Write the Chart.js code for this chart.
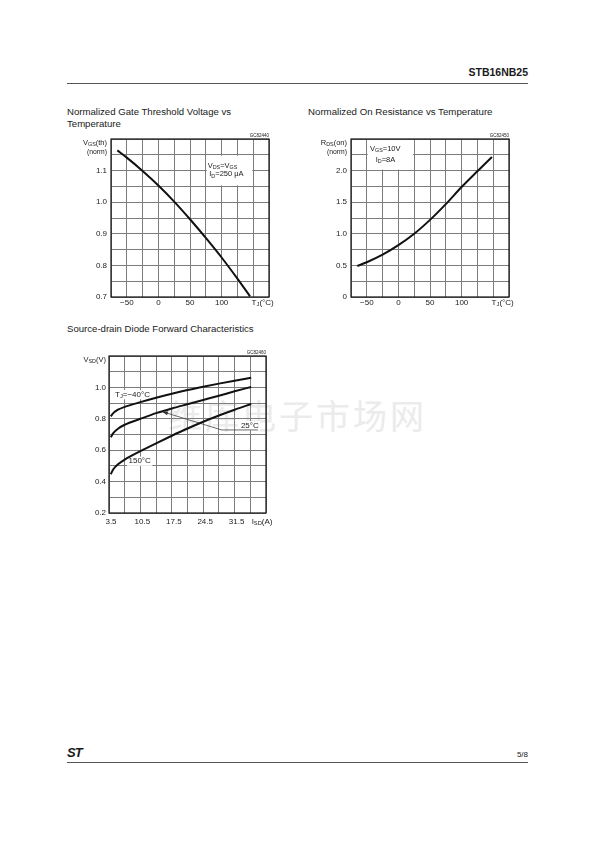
<!DOCTYPE html>
<html>
<head>
<meta charset="UTF-8">
<title>STB16NB25 - Kennlinien</title>
<script src="https://cdn.jsdelivr.net/npm/chart.js"></script>
<style>
  body { margin:0; width:595px; height:842px; position:relative; background:#fff; overflow:hidden;
         font-family:"Liberation Sans", Arial, sans-serif; color:#1a1a1a; }
  .t { position:absolute; white-space:nowrap; }
  canvas { position:absolute; }
  .wm { position:absolute; left:168px; top:396px; font-family:"Noto Sans CJK SC", sans-serif; font-size:34px;
        letter-spacing:3px; color:#ebebeb; white-space:nowrap; line-height:38px; }
</style>
</head>
<body>
<div class="t" style="right:67px; top:66.5px; font-size:10.5px; line-height:10.5px; font-weight:bold;">STB16NB25</div>
<div class="t" style="left:67px; top:83px; width:461px; border-top:1px solid #555;"></div>

<div class="wm">维库电子市场网</div>

<div class="t" style="left:67px; top:105.5px; font-size:9.6px; line-height:12.3px;">Normalized Gate Threshold Voltage vs<br>Temperature</div>
<div class="t" style="left:308px; top:105.5px; font-size:9.7px; line-height:12.3px;">Normalized On Resistance vs Temperature</div>
<div class="t" style="left:67px; top:322.8px; font-size:9.6px; line-height:12.3px;">Source-drain Diode Forward Characteristics</div>

<canvas id="gateChart"></canvas>
<canvas id="ronChart"></canvas>
<canvas id="diodeChart"></canvas>

<div class="t" style="left:67px; top:746px; font-size:13px; line-height:13px; font-weight:bold; font-style:italic; letter-spacing:-1px;">ST</div>
<div class="t" style="right:67px; top:751px; font-size:8px; line-height:8px;">5/8</div>
<div class="t" style="left:67px; top:762px; width:461px; border-top:1px solid #555;"></div>

<script>
// --- Normalized gate threshold voltage vs temperature
const gateTemp = [-65, -50, -25, 0, 25, 50, 75, 100, 125, 145];
const gateVth  = [1.164, 1.141, 1.099, 1.053, 1.002, 0.946, 0.887, 0.825, 0.758, 0.702];

// --- Normalized on resistance vs temperature
const ronTemp = [-65, -50, -25, 0, 25, 50, 75, 100, 125, 148];
const ronNorm = [0.49, 0.55, 0.67, 0.82, 1.0, 1.22, 1.47, 1.74, 1.99, 2.215];

// --- Source-drain diode forward characteristics
const isd        = [3.9, 4.5, 5.5, 7, 10.5, 14, 17.5, 21, 24.5, 28, 31.5, 35.2];
const vsdMinus40 = [0.815, 0.838, 0.858, 0.876, 0.906, 0.934, 0.96, 0.983, 1.004, 1.024, 1.043, 1.062];
const vsd25      = [0.683, 0.71, 0.737, 0.762, 0.8, 0.836, 0.866, 0.893, 0.92, 0.947, 0.975, 1.003];
const vsd150     = [0.447, 0.48, 0.51, 0.54, 0.594, 0.644, 0.692, 0.738, 0.781, 0.821, 0.858, 0.894];
// Hinweislinie zum 25°C-Label
const leaderIsd = [36.7, 28.6, 15.3];
const leaderVsd = [0.729, 0.729, 0.846];

// Beschriftete Ticks
const tempTicks = [-50, 0, 50, 100];
const vthTicks  = [0.7, 0.8, 0.9, 1.0, 1.1];
const ronTicks  = [0, 0.5, 1.0, 1.5, 2.0];
const isdTicks  = [3.5, 10.5, 17.5, 24.5, 31.5];
const vsdTicks  = [0.2, 0.4, 0.6, 0.8, 1.0];

const FONT = '"Liberation Sans", Arial, sans-serif';
Chart.defaults.font.family = FONT;

function pts(xs, ys) { return xs.map((x, i) => ({ x: x, y: ys[i] })); }

function tickLabel(list, fmt) {
    return v => {
        const hit = list.find(t => Math.abs(t - v) < 1e-6);
        return hit === undefined ? '' : fmt(hit);
    };
}

// Text mit Indizes zeichnen, parts: 'text' oder ['text','sub']
function drawRich(ctx, parts, x, y, size, align, bg) {
    const segs = parts.map(p => typeof p === 'string'
        ? { t: p, s: size, dy: 0 }
        : { t: p[0], s: size * 0.72, dy: size * 0.25 });
    let w = 0;
    segs.forEach(g => { ctx.font = g.s + 'px ' + FONT; g.w = ctx.measureText(g.t).width; w += g.w; });
    let cx = align === 'right' ? x - w : (align === 'center' ? x - w / 2 : x);
    if (bg) {
        ctx.fillStyle = '#fff';
        ctx.fillRect(cx - 1.5, y - size * 0.55, w + 3, size * 1.15);
    }
    ctx.fillStyle = '#1a1a1a';
    ctx.textBaseline = 'middle';
    ctx.textAlign = 'left';
    segs.forEach(g => { ctx.font = g.s + 'px ' + FONT; ctx.fillText(g.t, cx, y + g.dy); cx += g.w; });
}

function notesPlugin(cfg) {
    return {
        id: 'notes',
        beforeDatasetsDraw(chart) {
            const ctx = chart.ctx, a = chart.chartArea, xs = chart.scales.x, ys = chart.scales.y;
            ctx.save();
            (cfg.boxes || []).forEach(b => {
                const x1 = xs.getPixelForValue(b[0]), y1 = ys.getPixelForValue(b[1]);
                const x2 = xs.getPixelForValue(b[2]), y2 = ys.getPixelForValue(b[3]);
                ctx.fillStyle = '#fff';
                ctx.fillRect(x1 + 1, y1 + 1, x2 - x1 - 2, y2 - y1 - 2);
            });
            ctx.strokeStyle = '#111';
            ctx.lineWidth = 1.2;
            ctx.strokeRect(a.left, a.top, a.right - a.left, a.bottom - a.top);
            const tickY = a.bottom + cfg.xPad + 4.8;
            cfg.notes.forEach(n => {
                let px, py;
                if (n.side === 'left') { px = a.left - cfg.yPad; py = ys.getPixelForValue(n.y); }
                else if (n.side === 'bottom') { px = xs.getPixelForValue(n.x); py = tickY; }
                else if (n.side === 'top') { px = a.right; py = a.top - 3; }
                else { px = xs.getPixelForValue(n.x); py = ys.getPixelForValue(n.y); }
                drawRich(ctx, n.parts, px, py, n.size || 8, n.align || 'left', n.bg);
            });
            ctx.restore();
        },
        afterDatasetsDraw(chart) {
            if (!cfg.arrow) return;
            const ctx = chart.ctx, xs = chart.scales.x, ys = chart.scales.y;
            const tx = xs.getPixelForValue(cfg.arrow.to[0]), ty = ys.getPixelForValue(cfg.arrow.to[1]);
            const fx = xs.getPixelForValue(cfg.arrow.from[0]), fy = ys.getPixelForValue(cfg.arrow.from[1]);
            const ang = Math.atan2(ty - fy, tx - fx);
            ctx.save();
            ctx.translate(tx, ty);
            ctx.rotate(ang);
            ctx.fillStyle = '#333';
            ctx.beginPath();
            ctx.moveTo(0, 0); ctx.lineTo(-6, -2); ctx.lineTo(-6, 2); ctx.closePath();
            ctx.fill();
            ctx.restore();
        }
    };
}

function makeChart(id, box, cfg) {
    const yW = 50, padT = 20, padR = 30, xH = 22;
    const cv = document.getElementById(id);
    cv.width = yW + box.w + padR;
    cv.height = padT + box.h + xH;
    cv.style.left = (box.left - yW) + 'px';
    cv.style.top = (box.top - padT) + 'px';
    const grid = { color: '#7c7c7c', lineWidth: 1, drawTicks: false };
    const tickFont = { size: 8 };
    return new Chart(cv, {
        type: 'line',
        data: { datasets: cfg.datasets },
        options: {
            responsive: false,
            animation: false,
            events: [],
            layout: { padding: { top: padT, right: padR, left: 0, bottom: 0 } },
            plugins: { legend: { display: false }, tooltip: { enabled: false } },
            elements: { point: { radius: 0 } },
            scales: {
                x: {
                    type: 'linear', min: cfg.x.min, max: cfg.x.max,
                    afterFit: s => { s.height = xH; },
                    grid: grid, border: { display: false },
                    ticks: { stepSize: cfg.x.step, autoSkip: false, maxRotation: 0, padding: cfg.xPad,
                             labelOffset: cfg.x.offset || 0, color: '#222', font: tickFont,
                             callback: tickLabel(cfg.x.labels, cfg.x.fmt) }
                },
                y: {
                    type: 'linear', min: cfg.y.min, max: cfg.y.max,
                    afterFit: s => { s.width = yW; },
                    grid: grid, border: { display: false },
                    ticks: { stepSize: cfg.y.step, autoSkip: false, padding: cfg.yPad, color: '#222', font: tickFont,
                             callback: tickLabel(cfg.y.labels, cfg.y.fmt) }
                }
            }
        },
        plugins: [notesPlugin(cfg)]
    });
}

const curve = { borderColor: '#111', borderWidth: 2, fill: false, cubicInterpolationMode: 'monotone', pointRadius: 0 };
const fmtTemp = v => (v < 0 ? '\u2212' + Math.abs(v) : String(v));

makeChart('gateChart', { left: 111, top: 139, w: 158, h: 158 }, {
    x: { min: -75, max: 175, step: 25, labels: tempTicks, fmt: fmtTemp },
    y: { min: 0.7, max: 1.2, step: 0.05, labels: vthTicks, fmt: v => v.toFixed(1) },
    xPad: 1, yPad: 4,
    datasets: [Object.assign({ data: pts(gateTemp, gateVth) }, curve)],
    boxes: [[75, 1.15, 150, 1.05]],
    notes: [
        { x: 78, y: 1.116, parts: ['V', ['DS', 'sub'], '=V', ['GS', 'sub']], size: 7.5 },
        { x: 80.5, y: 1.088, parts: ['I', ['D', 'sub'], '=250 \u03bcA'], size: 7.5 },
        { side: 'left', y: 1.187, parts: ['V', ['GS', 'sub'], '(th)'], align: 'right', size: 7.5 },
        { side: 'left', y: 1.159, parts: ['(norm)'], align: 'right', size: 6.8 },
        { side: 'bottom', x: 147.5, parts: ['T', ['J', 'sub'], '(\u00b0C)'] },
        { side: 'top', parts: ['GC82440'], align: 'right', size: 4.5 }
    ]
});

makeChart('ronChart', { left: 351, top: 139, w: 158, h: 158 }, {
    x: { min: -75, max: 175, step: 25, labels: tempTicks, fmt: fmtTemp },
    y: { min: 0, max: 2.5, step: 0.25, labels: ronTicks, fmt: v => (v === 0 ? '0' : v.toFixed(1)) },
    xPad: 1, yPad: 4,
    datasets: [Object.assign({ data: pts(ronTemp, ronNorm) }, curve)],
    boxes: [[-50, 2.5, 25, 2.0]],
    notes: [
        { x: -44.9, y: 2.346, parts: ['V', ['GS', 'sub'], '=10V'], size: 7.5 },
        { x: -35.9, y: 2.176, parts: ['I', ['D', 'sub'], '=8A'], size: 7.5 },
        { side: 'left', y: 2.437, parts: ['R', ['DS', 'sub'], '(on)'], align: 'right', size: 7.5 },
        { side: 'left', y: 2.294, parts: ['(norm)'], align: 'right', size: 6.8 },
        { side: 'bottom', x: 147.5, parts: ['T', ['J', 'sub'], '(\u00b0C)'] },
        { side: 'top', parts: ['GC82450'], align: 'right', size: 4.5 }
    ]
});

makeChart('diodeChart', { left: 109, top: 356, w: 157, h: 157 }, {
    x: { min: 3.5, max: 38.5, step: 3.5, labels: isdTicks, fmt: v => v.toFixed(1), offset: 2 },
    y: { min: 0.2, max: 1.2, step: 0.1, labels: vsdTicks, fmt: v => v.toFixed(1) },
    xPad: 3.5, yPad: 3,
    datasets: [
        Object.assign({ data: pts(isd, vsdMinus40) }, curve),
        Object.assign({ data: pts(isd, vsd25) }, curve),
        Object.assign({ data: pts(isd, vsd150) }, curve),
        { data: pts(leaderIsd, leaderVsd), borderColor: '#444', borderWidth: 0.8, fill: false, tension: 0, pointRadius: 0 }
    ],
    arrow: { from: [leaderIsd[1], leaderVsd[1]], to: [leaderIsd[2], leaderVsd[2]] },
    notes: [
        { x: 4.84, y: 0.955, parts: ['T', ['J', 'sub'], '=\u221240\u00b0C'], bg: true },
        { x: 32.9, y: 0.757, parts: ['25\u00b0C'], bg: true },
        { x: 7.85, y: 0.531, parts: ['150\u00b0C'], bg: true },
        { side: 'left', y: 1.175, parts: ['V', ['SD', 'sub'], '(V)'], align: 'right', size: 7.5 },
        { side: 'bottom', x: 35.3, parts: ['I', ['SD', 'sub'], '(A)'] },
        { side: 'top', parts: ['GC82460'], align: 'right', size: 4.5 }
    ]
});
</script>
</body>
</html>
